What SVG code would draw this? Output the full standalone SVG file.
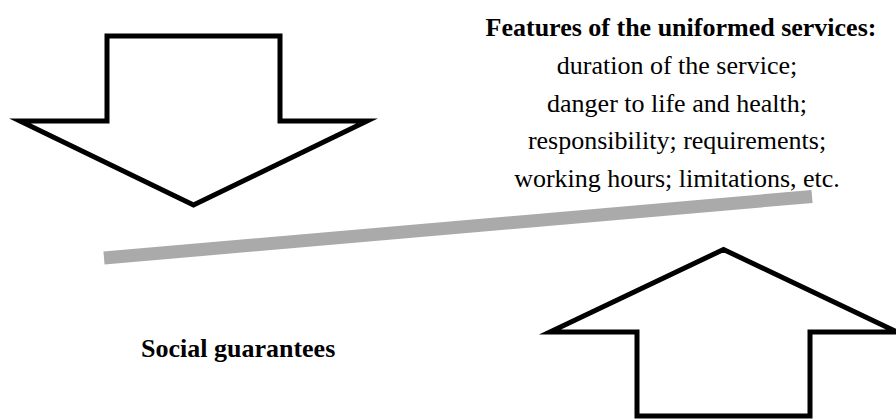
<svg xmlns="http://www.w3.org/2000/svg" width="896" height="419" viewBox="0 0 896 419">
<style>
.arrow{fill:#fff;stroke:#000;stroke-width:5;stroke-linejoin:miter;stroke-miterlimit:10}
.t{font-family:"Liberation Serif",serif;font-size:26px;fill:#000}
.b{font-weight:bold}
</style>
<rect width="896" height="419" fill="#fff"/>
<g id="connectors">
<line x1="104" y1="258" x2="812" y2="196.5" stroke="#aaaaaa" stroke-width="13"/>
</g>
<g id="down-arrow">
<polygon class="arrow" points="107,36 280,36 280,121 367,121 193.5,205 20,121 107,121"/>
</g>
<g id="up-arrow">
<polygon class="arrow" points="723.5,249.5 897,332 810,332 810,416 637,416 637,332 550,332"/>
</g>
<g id="features">
<text class="t b" x="681" y="36" text-anchor="middle">Features of the uniformed services:</text>
<text class="t" x="677" y="74" text-anchor="middle">duration of the service;</text>
<text class="t" x="677" y="111.5" text-anchor="middle">danger to life and health;</text>
<text class="t" x="677" y="149.25" text-anchor="middle">responsibility; requirements;</text>
<text class="t" x="677" y="187" text-anchor="middle">working hours; limitations, etc.</text>
</g>
<g id="social">
<text class="t b" x="141" y="357">Social guarantees</text>
</g>
</svg>
